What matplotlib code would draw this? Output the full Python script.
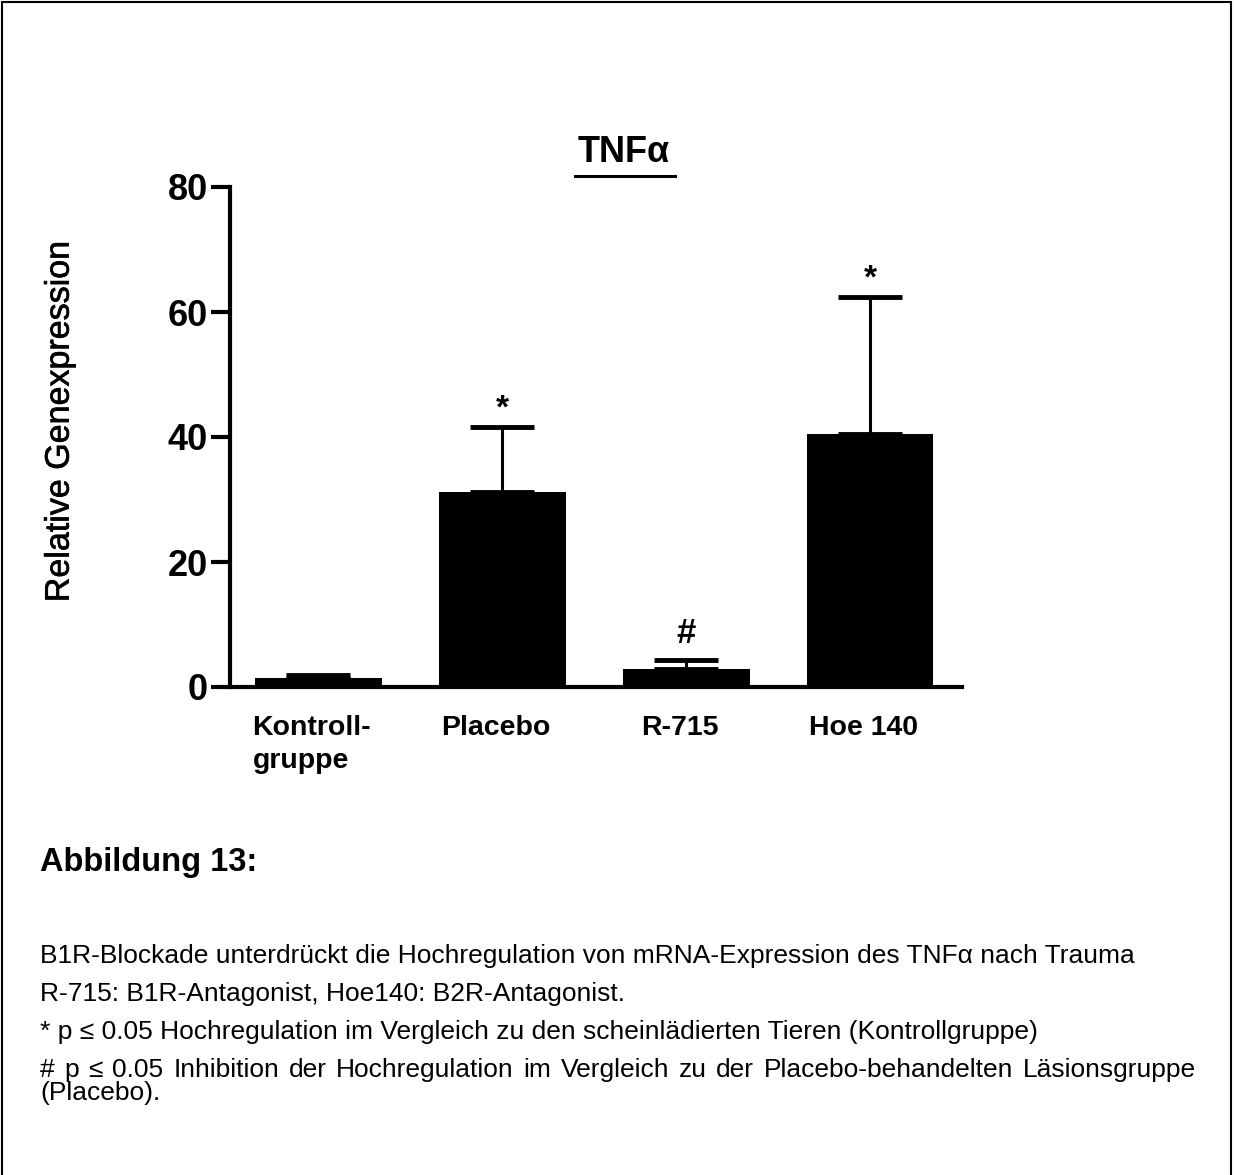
import numpy as np
import matplotlib
matplotlib.use('Agg')
import matplotlib.pyplot as plt
from matplotlib.patches import Rectangle
import matplotlib.patheffects as pe

plt.rcParams['font.family'] = ['Liberation Sans', 'DejaVu Sans']

# data
groups = ['Kontroll-\ngruppe', 'Placebo', 'R-715', 'Hoe 140']
means = [1.5, 31.2, 2.9, 40.5]
sem = [0.5, 10.4, 1.4, 21.9]
marks = ['', '*', '#', '*']
yticks = [0, 20, 40, 60, 80]

caption_head = 'Abbildung 13:'
caption_lines = [
    'B1R-Blockade unterdrückt die Hochregulation von mRNA-Expression des TNFα nach Trauma',
    'R-715: B1R-Antagonist, Hoe140: B2R-Antagonist.',
    '* p ≤ 0.05 Hochregulation im Vergleich zu den scheinlädierten Tieren (Kontrollgruppe)',
    '# p ≤ 0.05 Inhibition der Hochregulation im Vergleich zu der Placebo-behandelten Läsionsgruppe',
    '(Placebo).',
]
justified = [False, False, False, True, False]

W, H = 1234, 1175
fig = plt.figure(figsize=(W / 100, H / 100), dpi=100)

# page frame (bottom edge is off the picture)
fig.patches.append(Rectangle((2 / W, -0.05), 1229 / W, 1.05 - 2 / H,
                             transform=fig.transFigure, fill=False,
                             edgecolor='black', linewidth=1.5))

ax = fig.add_axes([230 / W, 1 - 687 / H, (962 - 230) / W, 500 / H])
x = np.arange(len(groups))
ax.bar(x, means, width=0.69, color='black', zorder=2)
ax.errorbar(x, means, yerr=[np.zeros(len(sem)), sem], fmt='none',
            ecolor='black', elinewidth=2.2, capsize=23, capthick=3.5, zorder=3)

for xi, m, s, mk in zip(x, means, sem, marks):
    if mk == '*':
        ax.annotate(mk, (xi, m + s), xytext=(0, 2), textcoords='offset points',
                    ha='center', va='bottom', fontsize=24, fontweight='bold')
    elif mk == '#':
        ax.annotate(mk, (xi, m + s), xytext=(0, 7), textcoords='offset points',
                    ha='center', va='bottom', fontsize=25, fontweight='bold')

ax.set_xlim(-0.48, 3.5)
ax.set_ylim(0, 80)
ax.set_yticks(yticks)
# labels sit a little left of the bar centres in the original
ax.set_xticks(x - 0.035)
ax.set_xticklabels(groups, fontsize=20.5, fontweight='bold',
                   multialignment='left', linespacing=1.35)
ax.tick_params(axis='x', length=0, pad=20)
ax.tick_params(axis='y', length=14, width=3, labelsize=26, pad=2)
for lab in ax.get_yticklabels():
    lab.set_fontweight('bold')
for sp in ['top', 'right']:
    ax.spines[sp].set_visible(False)
for sp in ['left', 'bottom']:
    ax.spines[sp].set_linewidth(3)
ax.spines['left'].set_zorder(4)
ax.set_ylabel('Relative Genexpression', fontsize=24.5, va='center',
              path_effects=[pe.withStroke(linewidth=0.45, foreground='black')])
ax.yaxis.set_label_coords(-0.232, 0.531)

# title with underline
fig.text(624 / W, 1 - 153 / H, 'TNFα', fontsize=26, fontweight='bold',
         ha='center', va='center')
fig.lines.append(plt.Line2D([575 / W, 675 / W], [1 - 176 / H, 1 - 176 / H],
                            transform=fig.transFigure, color='black', linewidth=2.2))

# caption
fig.text(40 / W, 1 - 862 / H, caption_head, fontsize=23.5, fontweight='bold',
         ha='left', va='center')
line_y = [956, 994, 1032, 1070, 1093]
left_px, right_px = 40, 1196
renderer = fig.canvas.get_renderer()
for txt, yy, just in zip(caption_lines, line_y, justified):
    if not just:
        fig.text(left_px / W, 1 - yy / H, txt, fontsize=19, ha='left', va='center')
        continue
    words = txt.split(' ')
    objs = [fig.text(0, 1 - yy / H, w, fontsize=19, ha='left', va='center') for w in words]
    widths = [o.get_window_extent(renderer).width for o in objs]
    gap = (right_px - left_px - sum(widths)) / (len(words) - 1)
    pos = left_px
    for o, wd in zip(objs, widths):
        o.set_x(pos / W)
        pos += wd + gap

fig.savefig('out.png', dpi=100)
